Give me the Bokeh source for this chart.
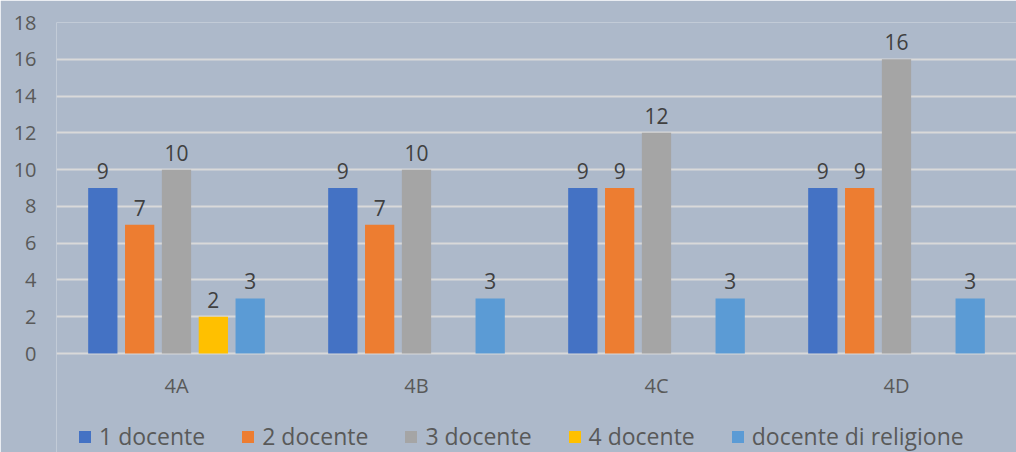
from bokeh.plotting import figure
from bokeh.models import ColumnDataSource, FactorRange, Legend, LegendItem
from bokeh.transform import dodge
from bokeh.core.properties import value
from bokeh.embed import file_html
from bokeh.resources import INLINE

categories = ["4A", "4B", "4C", "4D"]
series_names = ["1 docente", "2 docente", "3 docente", "4 docente", "docente di religione"]
docente_1 = [9, 9, 9, 9]
docente_2 = [7, 7, 9, 9]
docente_3 = [10, 10, 12, 16]
docente_4 = [2, None, None, None]
religione = [3, 3, 3, 3]
y_ticks = list(range(0, 20, 2))

series_values = [docente_1, docente_2, docente_3, docente_4, religione]
colors = ["#4472C4", "#ED7D31", "#A5A5A5", "#FFC000", "#5B9BD5"]
offsets = [-0.307, -0.1535, 0.0, 0.1535, 0.307]

FONT = "Open Sans"
BG = "#ADB9CA"

# the frame extends below zero so that the category labels and the legend sit inside it
p = figure(frame_width=960, frame_height=430, x_range=FactorRange(*categories, range_padding=0),
           y_range=(-5.38, 18), output_backend="svg", toolbar_location=None,
           background_fill_color=BG, border_fill_color=BG,
           min_border_left=56, min_border_right=0, min_border_top=22, min_border_bottom=0)
p.outline_line_color = None

items = []
for name, vals, col, off in zip(series_names, series_values, colors, offsets):
    xs = [c for c, v in zip(categories, vals) if v is not None]
    ys = [v for v in vals if v is not None]
    src = ColumnDataSource(dict(cat=xs, val=ys, lab=[str(v) for v in ys]))
    r = p.vbar(x=dodge("cat", off, range=p.x_range), top="val", width=0.122, bottom=0,
               source=src, fill_color=col, line_color=None)
    p.text(x=dodge("cat", off, range=p.x_range), y="val", text="lab", source=src,
           text_align="center", text_baseline="alphabetic", y_offset=-17,
           text_font=value(FONT), text_font_size="21px", text_color="#404040")
    items.append(LegendItem(label=name, renderers=[r]))

# category labels under the zero line
cat_src = ColumnDataSource(dict(cat=categories, y0=[0] * len(categories)))
p.text(x="cat", y="y0", text="cat", source=cat_src, y_offset=32,
       text_align="center", text_baseline="middle",
       text_font=value(FONT), text_font_size="20px", text_color="#595959")

p.yaxis.ticker = y_ticks
p.yaxis.axis_line_color = None
p.yaxis.major_tick_line_color = None
p.yaxis.minor_tick_line_color = None
p.yaxis.major_tick_out = 0
p.yaxis.major_label_text_font = FONT
p.yaxis.major_label_text_font_size = "20px"
p.yaxis.major_label_text_color = "#595959"
p.yaxis.major_label_standoff = 20

p.xaxis.visible = False
p.xgrid.grid_line_color = None
p.ygrid.ticker = y_ticks
p.ygrid.grid_line_color = "#D9D9D9"
p.ygrid.grid_line_width = 2

legend = Legend(items=items, orientation="horizontal", location=(21, 0),
                glyph_width=15, glyph_height=15, label_standoff=7, spacing=35,
                label_text_font=FONT, label_text_font_size="23px", label_text_color="#595959",
                background_fill_alpha=0, border_line_color=None, padding=0, margin=0)
p.add_layout(legend, "center")

open("out.html", "w").write(file_html(p, INLINE))
